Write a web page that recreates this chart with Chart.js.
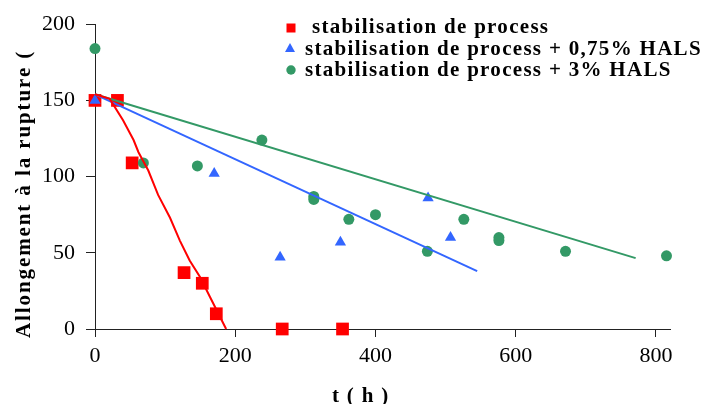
<!DOCTYPE html>
<html>
<head>
<meta charset="utf-8">
<script src="https://cdn.jsdelivr.net/npm/chart.js@4.4.1/dist/chart.umd.min.js"></script>
<style>
  body { margin: 0; background: #fff; }
</style>
</head>
<body>
<canvas id="myChart" width="704" height="404"></canvas>
<script>
// stabilisation de process
const t_process = [0, 32, 53, 127, 153, 173, 267, 353];
const a_process = [150, 150, 109, 37, 30, 10, 0, 0];
// + 0,75% HALS
const t_hals075 = [0, 170, 264, 350, 475, 507];
const a_hals075 = [150, 102, 47, 57, 86, 60];
// + 3% HALS
const t_hals3 = [0, 69, 146, 238, 312, 312, 362, 400, 474, 526, 576, 576, 671, 815];
const a_hals3 = [184, 109, 107, 124, 87, 85, 72, 75, 51, 72, 60, 58, 51, 48];

// trend lines
const trend_process_t = [0, 21, 40, 55, 62, 76, 90, 107, 121, 135, 150, 164, 187];
const trend_process_a = [154, 151, 137, 124, 116, 104, 88, 73, 58, 45, 34, 21, 0];
const trend_hals075_t = [0, 545];
const trend_hals075_a = [154, 38];
const trend_hals3_t = [0, 771];
const trend_hals3_a = [154, 46.5];

const labels = [
  'stabilisation de process',
  'stabilisation de process + 0,75% HALS',
  'stabilisation de process + 3% HALS'
];
const xTicks = [0, 200, 400, 600, 800];
const yTicks = [0, 50, 100, 150, 200];

const RED = '#ff0000', BLUE = '#3366ff', GREEN = '#339966';
const SERIF = '"Liberation Serif", "Times New Roman", serif';

function pts(xs, ys) {
  return xs.map((x, i) => ({ x: x, y: ys[i] }));
}

// legend + axis titles drawn by hand (legend sits inside the plot)
const textPlugin = {
  id: 'texts',
  afterDraw(chart) {
    const ctx = chart.ctx;
    ctx.save();
    ctx.fillStyle = '#000';
    ctx.font = 'bold 21px ' + SERIF;
    ctx.letterSpacing = '1.3px';
    ctx.textBaseline = 'alphabetic';
    ctx.textAlign = 'left';

    // legend
    ctx.fillStyle = RED;
    ctx.fillRect(286.5, 23.5, 9, 9);
    ctx.fillStyle = BLUE;
    ctx.beginPath();
    ctx.moveTo(290, 43); ctx.lineTo(295, 52); ctx.lineTo(285, 52);
    ctx.closePath(); ctx.fill();
    ctx.fillStyle = GREEN;
    ctx.beginPath();
    ctx.arc(291, 70, 4.7, 0, Math.PI * 2);
    ctx.fill();

    ctx.fillStyle = '#000';
    ctx.fillText(labels[0], 312, 33);
    ctx.fillText(labels[1], 305, 54.5);
    ctx.fillText(labels[2], 305, 76);

    // x title
    ctx.fillText('t ( h )', 332, 402);

    // y title
    ctx.letterSpacing = '1.9px';
    ctx.translate(30, 338);
    ctx.rotate(-Math.PI / 2);
    ctx.fillText('Allongement à la rupture (', 0, 0);
    ctx.restore();
  }
};

const ctx = document.getElementById('myChart').getContext('2d');
const myChart = new Chart(ctx, {
  type: 'scatter',
  data: {
    datasets: [
      {
        label: labels[0],
        data: pts(t_process, a_process),
        pointStyle: 'rect',
        pointRadius: 9,
        backgroundColor: RED,
        borderColor: RED,
        borderWidth: 0,
        clip: false,
        order: 4
      },
      {
        label: labels[1],
        data: pts(t_hals075, a_hals075),
        pointStyle: 'triangle',
        pointRadius: 6.5,
        backgroundColor: BLUE,
        borderColor: BLUE,
        borderWidth: 0,
        clip: false,
        order: 3
      },
      {
        label: labels[2],
        data: pts(t_hals3, a_hals3),
        pointStyle: 'circle',
        pointRadius: 5.5,
        backgroundColor: GREEN,
        borderColor: GREEN,
        borderWidth: 0,
        clip: false,
        order: 2
      },
      {
        data: pts(trend_process_t, trend_process_a),
        showLine: true, pointRadius: 0, borderColor: RED, borderWidth: 2, clip: false, order: 1
      },
      {
        data: pts(trend_hals075_t, trend_hals075_a),
        showLine: true, pointRadius: 0, borderColor: BLUE, borderWidth: 2, clip: false, order: 1
      },
      {
        data: pts(trend_hals3_t, trend_hals3_a),
        showLine: true, pointRadius: 0, borderColor: GREEN, borderWidth: 2, clip: false, order: 1
      }
    ]
  },
  options: {
    responsive: false,
    animation: false,
    events: [],
    layout: { padding: { left: 0, top: 19, right: 34, bottom: 0 } },
    plugins: { legend: { display: false }, tooltip: { enabled: false } },
    scales: {
      x: {
        type: 'linear',
        min: 0,
        max: 820,
        afterBuildTicks(scale) {
          scale.ticks = xTicks.map(v => ({ value: v }));
        },
        afterFit(scale) { scale.height = 75; },
        border: { display: true, color: '#222', width: 1 },
        grid: { drawOnChartArea: false, drawTicks: true, tickLength: 8, color: '#222' },
        ticks: { color: '#000', padding: 6, font: { family: SERIF, size: 22 } }
      },
      y: {
        type: 'linear',
        min: 0,
        max: 200,
        afterBuildTicks(scale) {
          scale.ticks = yTicks.map(v => ({ value: v }));
        },
        afterFit(scale) { scale.width = 95; },
        border: { display: true, color: '#222', width: 1 },
        grid: { drawOnChartArea: false, drawTicks: true, tickLength: 9, color: '#222' },
        ticks: { color: '#000', padding: 11, font: { family: SERIF, size: 22 } }
      }
    }
  },
  plugins: [textPlugin]
});
</script>
</body>
</html>
